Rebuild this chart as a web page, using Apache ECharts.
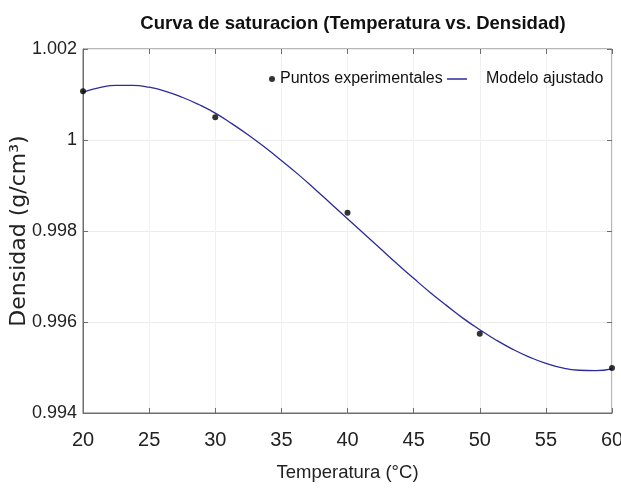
<!DOCTYPE html>
<html>
<head>
<meta charset="utf-8">
<script src="https://cdn.jsdelivr.net/npm/echarts@6/dist/echarts.min.js"></script>
<style>
  html, body { margin: 0; padding: 0; background: #fff; }
  #chart { width: 621px; height: 489px; }
</style>
</head>
<body>
<div id="chart"></div>
<script>
// puntos medidos
const tempPts = [20, 30, 40, 50, 60]
const densPts = [1.00107, 1.0005, 0.9984, 0.99574, 0.99499]

// curva ajustada
const tempFit = [20, 21.25, 22.5, 23.75, 25, 26.25, 27.5, 28.75, 30, 31.25, 32.5, 33.75, 35, 36.25, 37.5, 38.75,
  40, 41.25, 42.5, 43.75, 45, 46.25, 47.5, 48.75, 50, 51.25, 52.5, 53.75, 55, 56.25, 57.5, 58.75, 60]
const densFit = [1.00105, 1.00115, 1.0012, 1.0012, 1.00116, 1.00107, 1.00094, 1.00078, 1.00059, 1.00036,
  1.00011, 0.99984, 0.99955, 0.99925, 0.99893, 0.9986, 0.99827, 0.99794, 0.99761, 0.99728, 0.99696,
  0.99665, 0.99636, 0.99608, 0.99583, 0.9956, 0.9954, 0.99523, 0.99509, 0.99499, 0.99494, 0.99493, 0.99497]

const xTicks = [20, 25, 30, 35, 40, 45, 50, 55, 60]

const sans = "'Liberation Sans', Arial, sans-serif"
const lineCol = "#6e6e6e"

let myChart = echarts.init(document.getElementById("chart"))

const tickOnly = {
  axisLine: { show: false },
  axisTick: { show: true, inside: true, length: 5, lineStyle: { color: lineCol } },
  axisLabel: { show: false },
  splitLine: { show: false },
}

myChart.setOption({
  animation: false,
  backgroundColor: "#fff",
  title: {
    text: "Curva de saturacion (Temperatura vs. Densidad)",
    left: 348,
    textAlign: "center",
    top: 9,
    textStyle: { fontFamily: sans, fontSize: 18.5, fontWeight: "bold", color: "#111" },
  },
  legend: [
    {
      data: [{ name: "Puntos experimentales", icon: "circle" }],
      left: 264,
      top: 66,
      itemWidth: 6,
      itemHeight: 6,
      itemGap: 0,
      textStyle: { fontFamily: sans, fontSize: 16, color: "#111" },
    },
    {
      data: [{ name: "Modelo ajustado", icon: "rect" }],
      left: 442,
      top: 66,
      itemWidth: 20,
      itemHeight: 1.5,
      textStyle: { fontFamily: sans, fontSize: 16, color: "#111", padding: [0, 0, 0, 14] },
    },
  ],
  grid: {
    left: 83, right: 9, top: 49, bottom: 76,
    outerBoundsMode: "none",
    show: true, borderColor: lineCol, borderWidth: 1,
  },
  xAxis: [
    {
      type: "value",
      min: 20,
      max: 60,
      interval: 5,
      name: "Temperatura (°C)",
      nameLocation: "middle",
      nameGap: 50,
      nameTextStyle: { fontFamily: sans, fontSize: 18.5, color: "#222" },
      axisLine: { show: true, lineStyle: { color: lineCol } },
      axisTick: { show: true, inside: true, length: 5, lineStyle: { color: lineCol } },
      splitLine: { show: true, lineStyle: { color: "#f1f1f1" } },
      axisLabel: {
        fontFamily: sans,
        fontSize: 20,
        color: "#222",
        margin: 17,
        formatter: (v) => (xTicks.includes(v) ? String(v) : ""),
      },
    },
    { ...tickOnly, type: "value", position: "top", min: 20, max: 60, interval: 5 },
  ],
  yAxis: [
    {
      type: "value",
      min: 0.994,
      max: 1.002,
      interval: 0.002,
      name: "Densidad (g/cm³)",
      nameLocation: "middle",
      nameGap: 53,
      nameMoveOverlap: false,
      nameTextStyle: { fontFamily: "'DejaVu Sans', sans-serif", fontSize: 22, color: "#222" },
      axisLine: { show: true, lineStyle: { color: lineCol } },
      axisTick: { show: true, inside: true, length: 5, lineStyle: { color: lineCol } },
      splitLine: { show: true, lineStyle: { color: "#ececec" } },
      axisLabel: {
        fontFamily: sans,
        fontSize: 18,
        color: "#222",
        margin: 6,
        formatter: (v) => String(parseFloat(v.toFixed(3))),
      },
    },
    { ...tickOnly, type: "value", position: "right", min: 0.994, max: 1.002, interval: 0.002 },
  ],
  series: [
    {
      name: "Modelo ajustado",
      type: "line",
      data: tempFit.map((t, i) => [t, densFit[i]]),
      smooth: true,
      showSymbol: false,
      symbol: "none",
      lineStyle: { color: "#2b2b9c", width: 1.3 },
      itemStyle: { color: "#2b2b9c" },
      z: 2,
    },
    {
      name: "Puntos experimentales",
      type: "scatter",
      data: tempPts.map((t, i) => [t, densPts[i]]),
      symbolSize: 6,
      itemStyle: { color: "#000" },
      z: 3,
    },
  ],
})

window.addEventListener("resize", () => {
  myChart.resize()
})
</script>
</body>
</html>
